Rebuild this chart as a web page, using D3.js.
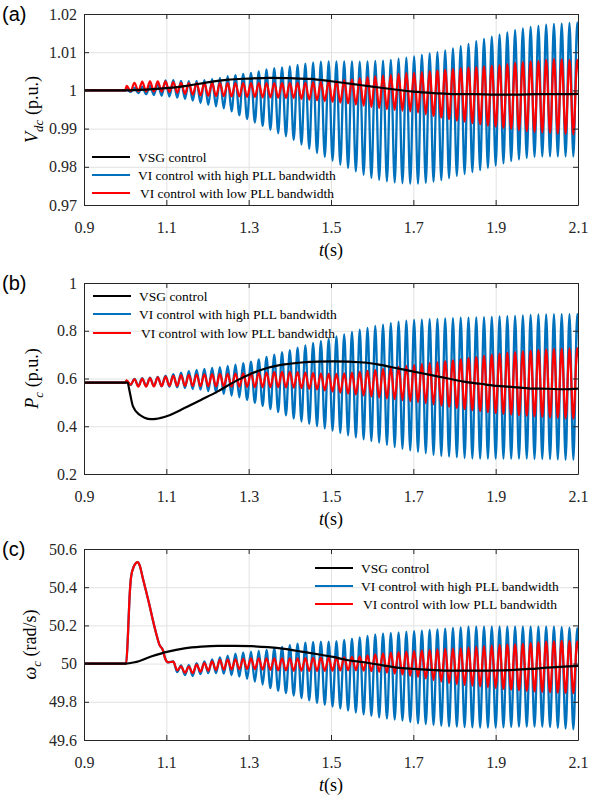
<!DOCTYPE html>
<html>
<head>
<meta charset="utf-8">
<script src="https://cdn.jsdelivr.net/npm/d3@7"></script>
<style>
  body { margin: 0; background: #fff; }
  text { font-family: "Liberation Serif", "Times New Roman", "DejaVu Serif", serif; }
</style>
</head>
<body>
<div id="chart"></div>
<script>
// ---- data ----
const timeTicks = [0.9, 1.1, 1.3, 1.5, 1.7, 1.9, 2.1];
const timeTickLabels = ["0.9", "1.1", "1.3", "1.5", "1.7", "1.9", "2.1"];

// the VI oscillations: one peak + one trough per cycle, cycle k peaks at oscFirstPeak + k*oscPeriod
const oscFirstPeak = 1.0037;
const oscPeriod = 0.01887;

const legendLabels = ["VSG control", "VI control with high PLL bandwidth", "VI control with low PLL bandwidth"];

// (a) Vdc
const vdcTicks = [0.97, 0.98, 0.99, 1, 1.01, 1.02];
const vdcTickLabels = ["0.97", "0.98", "0.99", "1", "1.01", "1.02"];
const vdcVsgT = [0.9, 1.0, 1.05, 1.1, 1.15, 1.2, 1.25, 1.3, 1.35, 1.4, 1.45, 1.5, 1.55, 1.6, 1.65, 1.7, 1.75, 1.8, 1.85, 1.9, 1.95, 2.0, 2.05, 2.1];
const vdcVsgV = [1.0, 1.0, 1.0002, 1.0006, 1.0012, 1.0021, 1.0028, 1.0031, 1.0033, 1.0032, 1.003, 1.0024, 1.0017, 1.001, 1.0003, 0.9997, 0.9993, 0.999, 0.999, 0.9989, 0.9989, 0.999, 0.999, 0.9991];
const vdcLeadT = [0.9, 1.0];
const vdcLeadV = [1.0, 1.0];
const vdcHighPeaks = [
  1.0004, 1.0007, 1.0010, 1.0013, 1.0018, 1.0026, 1.0027, 1.0025, 1.0024, 1.0025,
  1.0027, 1.0030, 1.0033, 1.0037, 1.0040, 1.0043, 1.0046, 1.0050, 1.0055, 1.0058,
  1.0060, 1.0063, 1.0067, 1.0070, 1.0073, 1.0075, 1.0076, 1.0076, 1.0076, 1.0076,
  1.0075, 1.0076, 1.0077, 1.0078, 1.0080, 1.0083, 1.0086, 1.0089, 1.0093, 1.0097,
  1.0100, 1.0105, 1.0110, 1.0116, 1.0122, 1.0129, 1.0135, 1.0141, 1.0146, 1.0152,
  1.0158, 1.0162, 1.0166, 1.0169, 1.0172, 1.0174, 1.0175, 1.0177, 1.0178];
const vdcHighTroughs = [
  0.9996, 0.9993, 0.9990, 0.9988, 0.9986, 0.9984, 0.9981, 0.9978, 0.9973, 0.9967,
  0.9962, 0.9958, 0.9953, 0.9945, 0.9935, 0.9925, 0.9916, 0.9907, 0.9897, 0.9888,
  0.9880, 0.9870, 0.9858, 0.9847, 0.9836, 0.9826, 0.9816, 0.9806, 0.9797, 0.9788,
  0.9779, 0.9771, 0.9766, 0.9762, 0.9759, 0.9757, 0.9756, 0.9756, 0.9758, 0.9761,
  0.9765, 0.9770, 0.9776, 0.9781, 0.9786, 0.9791, 0.9797, 0.9803, 0.9809, 0.9815,
  0.9819, 0.9823, 0.9826, 0.9827, 0.9827, 0.9827, 0.9827, 0.9827, 0.9827];
const vdcLowPeaks = [
  1.0012, 1.0020, 1.0023, 1.0024, 1.0024, 1.0024, 1.0022, 1.0020, 1.0019, 1.0019,
  1.0019, 1.0019, 1.0019, 1.0019, 1.0019, 1.0019, 1.0019, 1.0019, 1.0019, 1.0019,
  1.0019, 1.0020, 1.0020, 1.0020, 1.0021, 1.0022, 1.0024, 1.0025, 1.0027, 1.0029,
  1.0032, 1.0035, 1.0037, 1.0039, 1.0041, 1.0043, 1.0045, 1.0046, 1.0048, 1.0050,
  1.0052, 1.0054, 1.0056, 1.0058, 1.0060, 1.0061, 1.0063, 1.0065, 1.0066, 1.0069,
  1.0072, 1.0074, 1.0076, 1.0077, 1.0080, 1.0082, 1.0081, 1.0080, 1.0080];
const vdcLowTroughs = [
  0.9998, 0.9998, 0.9997, 0.9997, 0.9997, 0.9996, 0.9994, 0.9991, 0.9989, 0.9987,
  0.9986, 0.9985, 0.9985, 0.9984, 0.9984, 0.9983, 0.9983, 0.9982, 0.9982, 0.9981,
  0.9980, 0.9980, 0.9978, 0.9976, 0.9974, 0.9972, 0.9970, 0.9968, 0.9966, 0.9963,
  0.9960, 0.9957, 0.9954, 0.9951, 0.9949, 0.9947, 0.9945, 0.9942, 0.9937, 0.9933,
  0.9929, 0.9925, 0.9921, 0.9918, 0.9914, 0.9911, 0.9908, 0.9905, 0.9902, 0.9899,
  0.9896, 0.9893, 0.9891, 0.9890, 0.9889, 0.9887, 0.9886, 0.9885, 0.9884];

// (b) Pc
const pcTicks = [0.2, 0.4, 0.6, 0.8, 1];
const pcTickLabels = ["0.2", "0.4", "0.6", "0.8", "1"];
const pcVsgT = [0.9, 1.006, 1.010, 1.019, 1.035, 1.047, 1.063, 1.075, 1.104, 1.144, 1.185, 1.225, 1.266, 1.306, 1.347, 1.387, 1.428, 1.468, 1.505, 1.580, 1.620, 1.660, 1.701, 1.741, 1.782, 1.822, 1.863, 1.903, 1.944, 1.984, 2.025, 2.065, 2.1];
const pcVsgV = [0.583, 0.583, 0.553, 0.483, 0.448, 0.436, 0.430, 0.431, 0.444, 0.476, 0.511, 0.546, 0.587, 0.620, 0.645, 0.659, 0.667, 0.671, 0.672, 0.667, 0.657, 0.643, 0.629, 0.615, 0.601, 0.587, 0.578, 0.569, 0.564, 0.558, 0.557, 0.555, 0.558];
const pcLeadT = [0.9, 1.0];
const pcLeadV = [0.583, 0.583];
const pcHighPeaks = [
  0.590, 0.598, 0.601, 0.604, 0.607, 0.612, 0.618, 0.625, 0.631, 0.636,
  0.640, 0.644, 0.648, 0.653, 0.658, 0.664, 0.671, 0.680, 0.690, 0.700,
  0.710, 0.719, 0.729, 0.739, 0.749, 0.758, 0.767, 0.776, 0.785, 0.795,
  0.805, 0.812, 0.820, 0.826, 0.832, 0.838, 0.842, 0.845, 0.847, 0.849,
  0.850, 0.852, 0.853, 0.855, 0.855, 0.856, 0.857, 0.858, 0.860, 0.861,
  0.862, 0.864, 0.866, 0.868, 0.869, 0.870, 0.870, 0.870, 0.870];
const pcHighTroughs = [
  0.573, 0.569, 0.568, 0.568, 0.567, 0.566, 0.563, 0.560, 0.556, 0.553,
  0.547, 0.541, 0.535, 0.528, 0.521, 0.510, 0.498, 0.485, 0.472, 0.459,
  0.446, 0.432, 0.420, 0.410, 0.400, 0.391, 0.382, 0.372, 0.362, 0.353,
  0.345, 0.338, 0.331, 0.322, 0.313, 0.306, 0.299, 0.293, 0.287, 0.280,
  0.276, 0.273, 0.270, 0.267, 0.265, 0.264, 0.264, 0.264, 0.264, 0.264,
  0.264, 0.264, 0.263, 0.263, 0.262, 0.261, 0.260, 0.260, 0.260];
const pcLowPeaks = [
  0.592, 0.598, 0.600, 0.602, 0.605, 0.608, 0.611, 0.614, 0.615, 0.616,
  0.617, 0.618, 0.619, 0.620, 0.621, 0.622, 0.623, 0.624, 0.625, 0.627,
  0.628, 0.628, 0.627, 0.625, 0.623, 0.621, 0.620, 0.620, 0.622, 0.625,
  0.628, 0.632, 0.636, 0.640, 0.644, 0.649, 0.653, 0.656, 0.660, 0.664,
  0.668, 0.672, 0.676, 0.680, 0.685, 0.690, 0.695, 0.700, 0.704, 0.708,
  0.711, 0.714, 0.717, 0.720, 0.722, 0.724, 0.725, 0.726, 0.727];
const pcLowTroughs = [
  0.574, 0.566, 0.566, 0.567, 0.568, 0.569, 0.569, 0.569, 0.569, 0.568,
  0.568, 0.567, 0.567, 0.566, 0.566, 0.565, 0.564, 0.564, 0.564, 0.564,
  0.563, 0.562, 0.560, 0.557, 0.554, 0.550, 0.545, 0.541, 0.537, 0.533,
  0.529, 0.525, 0.521, 0.517, 0.513, 0.509, 0.505, 0.501, 0.497, 0.492,
  0.487, 0.482, 0.477, 0.472, 0.467, 0.463, 0.459, 0.455, 0.452, 0.449,
  0.446, 0.443, 0.441, 0.439, 0.437, 0.435, 0.433, 0.432, 0.432];

// (c) omega_c
const omegaTicks = [49.6, 49.8, 50, 50.2, 50.4, 50.6];
const omegaTickLabels = ["49.6", "49.8", "50", "50.2", "50.4", "50.6"];
const omegaVsgT = [0.9, 1.0, 1.023, 1.063, 1.104, 1.144, 1.185, 1.225, 1.266, 1.306, 1.347, 1.387, 1.428, 1.468, 1.505, 1.539, 1.580, 1.620, 1.660, 1.701, 1.741, 1.782, 1.822, 1.863, 1.903, 1.944, 1.984, 2.025, 2.065, 2.1];
const omegaVsgV = [50, 50, 50.007, 50.037, 50.063, 50.080, 50.089, 50.093, 50.093, 50.091, 50.086, 50.077, 50.063, 50.049, 50.035, 50.019, 50.007, 49.993, 49.979, 49.972, 49.967, 49.963, 49.963, 49.963, 49.964, 49.967, 49.972, 49.979, 49.984, 49.988];
// frequency spike shared by both VI cases before the oscillation sets in (cycle 6 onward)
const omegaSpikeT = [0.9, 1.0024, 1.0064, 1.0105, 1.0145, 1.021, 1.0307, 1.0348, 1.0429, 1.051, 1.059, 1.0671, 1.0752, 1.0833, 1.0914, 1.097, 1.1036];
const omegaSpikeV = [50, 50, 50.133, 50.342, 50.456, 50.508, 50.531, 50.517, 50.447, 50.377, 50.307, 50.229, 50.159, 50.098, 50.072, 50.028, 50.007];
const omegaFirstCycle = 6;
const omegaHighPeaks = [
  50.012, 49.990, 49.992, 50.002, 50.012, 50.022, 50.032, 50.042, 50.052, 50.058,
  50.063, 50.067, 50.072, 50.080, 50.088, 50.097, 50.105, 50.110, 50.114, 50.115,
  50.115, 50.118, 50.124, 50.130, 50.137, 50.145, 50.153, 50.158, 50.161, 50.164,
  50.167, 50.170, 50.173, 50.176, 50.179, 50.183, 50.187, 50.190, 50.193, 50.194,
  50.194, 50.194, 50.194, 50.194, 50.194, 50.194, 50.194, 50.194, 50.194, 50.193,
  50.191, 50.188, 50.185];
const omegaHighTroughs = [
  49.955, 49.940, 49.935, 49.945, 49.950, 49.950, 49.947, 49.940, 49.932, 49.920,
  49.906, 49.890, 49.872, 49.858, 49.845, 49.833, 49.820, 49.807, 49.794, 49.784,
  49.775, 49.765, 49.754, 49.744, 49.734, 49.726, 49.718, 49.712, 49.707, 49.702,
  49.694, 49.687, 49.683, 49.679, 49.675, 49.671, 49.670, 49.668, 49.666, 49.665,
  49.665, 49.665, 49.666, 49.668, 49.670, 49.670, 49.670, 49.670, 49.668, 49.664,
  49.660, 49.656, 49.652];
const omegaLowPeaks = [
  50.010, 49.985, 49.984, 49.995, 50.003, 50.012, 50.019, 50.021, 50.022, 50.025,
  50.027, 50.028, 50.028, 50.028, 50.028, 50.028, 50.028, 50.029, 50.030, 50.031,
  50.031, 50.032, 50.033, 50.035, 50.038, 50.043, 50.048, 50.054, 50.057, 50.060,
  50.063, 50.066, 50.069, 50.072, 50.074, 50.077, 50.078, 50.080, 50.084, 50.088,
  50.091, 50.096, 50.098, 50.100, 50.101, 50.104, 50.107, 50.111, 50.115, 50.117,
  50.119, 50.118, 50.115];
const omegaLowTroughs = [
  49.965, 49.952, 49.950, 49.958, 49.963, 49.966, 49.968, 49.970, 49.971, 49.972,
  49.971, 49.969, 49.967, 49.965, 49.964, 49.963, 49.963, 49.962, 49.962, 49.962,
  49.963, 49.964, 49.965, 49.965, 49.963, 49.960, 49.957, 49.953, 49.948, 49.943,
  49.937, 49.930, 49.922, 49.914, 49.906, 49.899, 49.893, 49.888, 49.884, 49.880,
  49.876, 49.872, 49.868, 49.864, 49.861, 49.857, 49.854, 49.852, 49.850, 49.848,
  49.846, 49.845, 49.845];

// ---- drawing ----
const colVsg = "#000000", colHigh = "#0072BD", colLow = "#FF0000";
const axisCol = "#262626", gridCol = "#e2e2e2";
const serif = '"Liberation Serif", "Times New Roman", "DejaVu Serif", serif';

const width = 596, height = 800;
const left = 84, right = 578;

const svg = d3.select("#chart").append("svg")
  .attr("width", width).attr("height", height);
svg.append("rect").attr("width", width).attr("height", height).attr("fill", "#fff");

const x = d3.scaleLinear().domain([0.9, 2.1]).range([left, right]);

function zipPoints(ts, vs) {
  return ts.map((t, i) => ({t: t, v: vs[i]}));
}

function oscPoints(leadT, leadV, firstCycle, peaks, troughs) {
  const pts = zipPoints(leadT, leadV);
  peaks.forEach((p, i) => {
    const tp = oscFirstPeak + (firstCycle + i) * oscPeriod;
    pts.push({t: tp, v: p});
    pts.push({t: tp + oscPeriod / 2, v: troughs[i]});
  });
  return pts;
}

function drawPanel(cfg, idx) {
  const y = d3.scaleLinear().domain(cfg.domain).range([cfg.bottom, cfg.top]);
  const h = cfg.bottom - cfg.top;
  const g = svg.append("g");

  // grid
  g.append("g")
    .attr("transform", `translate(0,${cfg.bottom})`)
    .call(d3.axisBottom(x).tickValues(timeTicks).tickSize(-h).tickFormat(""))
    .call(s => { s.select(".domain").remove(); s.selectAll("line").attr("stroke", gridCol); });
  g.append("g")
    .attr("transform", `translate(${left},0)`)
    .call(d3.axisLeft(y).tickValues(cfg.ticks).tickSize(-(right - left)).tickFormat(""))
    .call(s => { s.select(".domain").remove(); s.selectAll("line").attr("stroke", gridCol); });

  // curves
  g.append("clipPath").attr("id", "clip" + idx)
    .append("rect").attr("x", left).attr("y", cfg.top).attr("width", right - left).attr("height", h);
  const line = d3.line().x(d => x(d.t)).y(d => y(d.v)).curve(d3.curveMonotoneX);
  const plot = g.append("g").attr("clip-path", `url(#clip${idx})`);
  cfg.series.forEach(s => {
    plot.append("path").datum(s.pts)
      .attr("fill", "none").attr("stroke", s.color)
      .attr("stroke-width", s.width).attr("stroke-linejoin", "round")
      .attr("d", line);
  });

  // axes, matlab style inward ticks on all sides
  const styleAxis = s => {
    s.select(".domain").attr("stroke", axisCol);
    s.selectAll(".tick line").attr("stroke", axisCol);
    s.selectAll("text").attr("fill", axisCol).style("font-size", "16px").style("font-family", serif);
  };
  g.append("g").attr("transform", `translate(0,${cfg.bottom})`)
    .call(d3.axisBottom(x).tickValues(timeTicks).tickSize(-5).tickSizeOuter(0)
      .tickFormat((d, i) => timeTickLabels[i]))
    .call(styleAxis)
    .call(s => s.selectAll("text").attr("y", 22).attr("dy", "0.35em"));
  g.append("g").attr("transform", `translate(0,${cfg.top})`)
    .call(d3.axisTop(x).tickValues(timeTicks).tickSize(-5).tickSizeOuter(0).tickFormat(""))
    .call(styleAxis);
  g.append("g").attr("transform", `translate(${left},0)`)
    .call(d3.axisLeft(y).tickValues(cfg.ticks).tickSize(-5).tickSizeOuter(0)
      .tickFormat((d, i) => cfg.tickLabels[i]))
    .call(styleAxis)
    .call(s => s.selectAll("text").attr("x", -7));
  g.append("g").attr("transform", `translate(${right},0)`)
    .call(d3.axisRight(y).tickValues(cfg.ticks).tickSize(-5).tickSizeOuter(0).tickFormat(""))
    .call(styleAxis);

  // x title t(s)
  const xt = g.append("text")
    .attr("x", (left + right) / 2).attr("y", cfg.bottom + 45).attr("dy", "0.35em")
    .attr("text-anchor", "middle").style("font-size", "18px").attr("fill", "#000");
  xt.append("tspan").attr("font-style", "italic").text("t");
  xt.append("tspan").text("(s)");

  // y title
  const yt = g.append("text")
    .attr("transform", `translate(${cfg.yTitleX},${(cfg.top + cfg.bottom) / 2}) rotate(-90)`)
    .attr("text-anchor", "middle").style("font-size", "18px").attr("fill", "#000");
  yt.append("tspan").attr("font-style", "italic").text(cfg.ySym);
  yt.append("tspan").attr("font-style", "italic").attr("dy", 5).style("font-size", "13px").text(cfg.ySub);
  yt.append("tspan").attr("dy", -5).text(" " + cfg.yUnit);

  // panel letter
  svg.append("text").attr("x", 2).attr("y", cfg.top).attr("dy", "0.35em")
    .style("font-family", '"Liberation Sans", Arial, sans-serif').style("font-size", "20px")
    .text(cfg.letter);

  // legend
  const cols = [colVsg, colHigh, colLow];
  const lg = g.append("g");
  legendLabels.forEach((lab, i) => {
    const ly = cfg.legY[i];
    lg.append("line").attr("x1", cfg.legX).attr("x2", cfg.legX + 38)
      .attr("y1", ly).attr("y2", ly).attr("stroke", cols[i]).attr("stroke-width", 2);
    lg.append("text").attr("x", cfg.legX + 46 + (i === 2 ? 2 : 0)).attr("y", ly).attr("dy", "0.35em")
      .style("font-size", "13.5px").attr("fill", "#000").text(lab);
  });
}

const panels = [
  {
    letter: "(a)", top: 14, bottom: 205, domain: [0.97, 1.02], ticks: vdcTicks, tickLabels: vdcTickLabels,
    ySym: "V", ySub: "dc", yUnit: "(p.u.)", yTitleX: 38,
    legX: 92, legY: [157, 175, 193],
    series: [
      {color: colHigh, width: 2.3, pts: oscPoints(vdcLeadT, vdcLeadV, 0, vdcHighPeaks, vdcHighTroughs)},
      {color: colLow, width: 2.2, pts: oscPoints(vdcLeadT, vdcLeadV, 0, vdcLowPeaks, vdcLowTroughs)},
      {color: colVsg, width: 2.2, pts: zipPoints(vdcVsgT, vdcVsgV)}
    ]
  },
  {
    letter: "(b)", top: 283, bottom: 474, domain: [0.2, 1], ticks: pcTicks, tickLabels: pcTickLabels,
    ySym: "P", ySub: "c", yUnit: "(p.u.)", yTitleX: 38,
    legX: 93, legY: [296, 314, 333],
    series: [
      {color: colHigh, width: 2.3, pts: oscPoints(pcLeadT, pcLeadV, 0, pcHighPeaks, pcHighTroughs)},
      {color: colLow, width: 2.2, pts: oscPoints(pcLeadT, pcLeadV, 0, pcLowPeaks, pcLowTroughs)},
      {color: colVsg, width: 2.2, pts: zipPoints(pcVsgT, pcVsgV)}
    ]
  },
  {
    letter: "(c)", top: 549, bottom: 740, domain: [49.6, 50.6], ticks: omegaTicks, tickLabels: omegaTickLabels,
    ySym: "\u03c9", ySub: "c", yUnit: "(rad/s)", yTitleX: 36,
    legX: 315, legY: [568, 586, 604],
    series: [
      {color: colHigh, width: 2.3, pts: oscPoints(omegaSpikeT, omegaSpikeV, omegaFirstCycle, omegaHighPeaks, omegaHighTroughs)},
      {color: colLow, width: 2.2, pts: oscPoints(omegaSpikeT, omegaSpikeV, omegaFirstCycle, omegaLowPeaks, omegaLowTroughs)},
      {color: colVsg, width: 2.2, pts: zipPoints(omegaVsgT, omegaVsgV)}
    ]
  }
];

panels.forEach(drawPanel);
</script>
</body>
</html>
